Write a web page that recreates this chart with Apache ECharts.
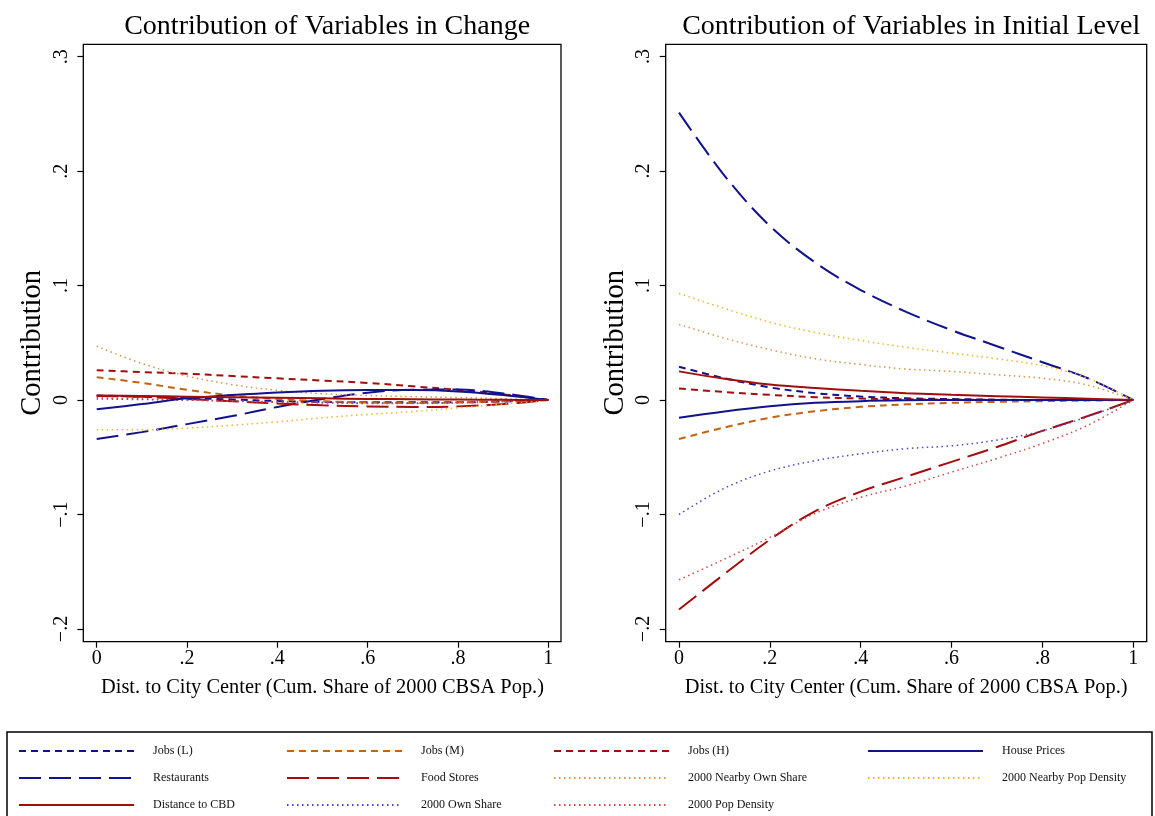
<!DOCTYPE html>
<html>
<head>
<meta charset="utf-8">
<script src="https://cdn.jsdelivr.net/npm/echarts@6/dist/echarts.min.js"></script>
<style>
html,body{margin:0;padding:0;background:#fff;}
#chart{width:1155px;height:816px;}
</style>
</head>
<body>
<div id="chart"></div>
<script>
// ---- data ----
const xVals = [0, 0.1, 0.2, 0.3, 0.4, 0.5, 0.6, 0.7, 0.8, 0.9, 1.0];
const titles = ["Contribution of Variables in Change", "Contribution of Variables in Initial Level"];
const seriesNames = ["Jobs (L)", "Jobs (M)", "Jobs (H)", "House Prices", "Restaurants", "Food Stores",
  "2000 Nearby Own Share", "2000 Nearby Pop Density", "Distance to CBD", "2000 Own Share", "2000 Pop Density"];

// Contribution in change (left panel)
const chgJobsL     = [0.004, 0.003, 0.002, 0.0005, -0.0008, -0.0015, -0.002, -0.002, -0.002, -0.0012, 0];
const chgJobsM     = [0.020, 0.015, 0.009, 0.004, 0.001, -0.001, -0.002, -0.0025, -0.002, -0.001, 0];
const chgJobsH     = [0.026, 0.0245, 0.023, 0.021, 0.019, 0.017, 0.015, 0.012, 0.009, 0.005, 0];
const chgHouse     = [-0.008, -0.0035, 0.0015, 0.0044, 0.0067, 0.0082, 0.0087, 0.0087, 0.0076, 0.0044, 0];
const chgRest      = [-0.034, -0.028, -0.021, -0.014, -0.006, 0.001, 0.0065, 0.009, 0.0092, 0.0058, 0];
const chgFood      = [0.0035, 0.0028, 0.001, -0.001, -0.003, -0.0045, -0.0055, -0.006, -0.0055, -0.0035, 0];
const chgNbOwn     = [0.047, 0.032, 0.021, 0.0135, 0.0085, 0.0055, 0.004, 0.003, 0.0022, 0.0012, 0];
const chgNbPop     = [-0.026, -0.026, -0.0245, -0.022, -0.019, -0.0155, -0.0125, -0.010, -0.0068, -0.0035, 0];
const chgCBD       = [0.004, 0.0035, 0.003, 0.0025, 0.002, 0.0015, 0.001, 0.0007, 0.0004, 0.0002, 0];
const chgOwn       = [0.001, 0.0005, 0, -0.0008, -0.0015, -0.002, -0.0025, -0.0025, -0.002, -0.001, 0];
const chgPop       = [0.002, 0.001, 0, -0.001, -0.002, -0.0025, -0.003, -0.003, -0.0025, -0.0015, 0];

// Contribution in initial level (right panel)
const lvlJobsL     = [0.029, 0.019, 0.011, 0.006, 0.003, 0.0015, 0.0008, 0.0003, 0, 0, 0];
const lvlJobsM     = [-0.034, -0.024, -0.0155, -0.0098, -0.006, -0.0038, -0.0025, -0.0016, -0.001, -0.0005, 0];
const lvlJobsH     = [0.010, 0.007, 0.0045, 0.0025, 0.0013, 0.0006, 0.0003, 0.0001, 0, 0, 0];
const lvlHouse     = [-0.0155, -0.010, -0.0055, -0.0025, -0.001, -0.0003, 0, 0, 0, 0, 0];
const lvlRest      = [0.251, 0.196, 0.152, 0.120, 0.096, 0.077, 0.061, 0.047, 0.033, 0.019, 0];
const lvlFood      = [-0.183, -0.152, -0.122, -0.097, -0.080, -0.067, -0.054, -0.041, -0.027, -0.014, 0];
const lvlNbOwn     = [0.066, 0.054, 0.044, 0.036, 0.031, 0.027, 0.025, 0.022, 0.019, 0.013, 0];
const lvlNbPop     = [0.093, 0.080, 0.068, 0.059, 0.052, 0.046, 0.041, 0.036, 0.030, 0.019, 0];
const lvlCBD       = [0.025, 0.0185, 0.0135, 0.0105, 0.008, 0.006, 0.0045, 0.0033, 0.0022, 0.0012, 0];
const lvlOwn       = [-0.100, -0.077, -0.062, -0.053, -0.047, -0.0425, -0.040, -0.035, -0.027, -0.0145, 0];
const lvlPop       = [-0.157, -0.139, -0.120, -0.099, -0.085, -0.075, -0.063, -0.051, -0.038, -0.022, 0];

const changeData = [chgJobsL, chgJobsM, chgJobsH, chgHouse, chgRest, chgFood, chgNbOwn, chgNbPop, chgCBD, chgOwn, chgPop];
const levelData  = [lvlJobsL, lvlJobsM, lvlJobsH, lvlHouse, lvlRest, lvlFood, lvlNbOwn, lvlNbPop, lvlCBD, lvlOwn, lvlPop];

// ---- styles ----
const NAVY = '#12128c', MAROON = '#a30d0d', ORANGE = '#c4640f';
const SHORT = [7, 5], LONG = [22, 8], DOT = [1.5, 3.5];
const styles = {
  "Jobs (L)":               {color: NAVY,   type: SHORT, width: 2},
  "Jobs (M)":               {color: ORANGE, type: SHORT, width: 2},
  "Jobs (H)":               {color: MAROON, type: SHORT, width: 2},
  "House Prices":           {color: NAVY,   type: 'solid', width: 2},
  "Restaurants":            {color: NAVY,   type: LONG, width: 2},
  "Food Stores":            {color: MAROON, type: LONG, width: 2},
  "2000 Nearby Own Share":  {color: '#d8944f', type: DOT, width: 1.5},
  "2000 Nearby Pop Density":{color: '#efb42a', type: DOT, width: 1.5},
  "Distance to CBD":        {color: MAROON, type: 'solid', width: 2},
  "2000 Own Share":         {color: '#4848c8', type: DOT, width: 1.5},
  "2000 Pop Density":       {color: '#d04848', type: DOT, width: 1.5}
};

const FONT = '"Liberation Serif", "Times New Roman", serif';
const fmt = v => {
  const r = Math.round(v * 10) / 10;
  if (r === 0) return '0';
  if (r === 1) return '1';
  const s = Math.abs(r).toFixed(1).replace(/^0/, '');
  return (r < 0 ? '\u2212' : '') + s;
};

// grid geometry (plot region = data range)
const grids = [
  {left: 96.7, top: 56.7, width: 451.6, height: 572.3},
  {left: 679,  top: 56.5, width: 454.3, height: 572.5}
];
const frames = [
  {x: 83.3, y: 44.3, w: 477.7, h: 597.4},
  {x: 665.7, y: 44.3, w: 481, h: 597.4}
];

const series = [];
[changeData, levelData].forEach((set, gi) => {
  set.forEach((vals, i) => {
    const name = seriesNames[i];
    const st = styles[name];
    series.push({
      type: 'line', name: name, xAxisIndex: gi, yAxisIndex: gi,
      data: xVals.map((x, k) => [x, vals[k]]),
      smooth: 0.35, symbol: 'none', showSymbol: false, silent: true, animation: false,
      z: st.type === 'solid' ? 3 : 2,
      lineStyle: {color: st.color, type: st.type, width: st.width, cap: 'butt'},
      itemStyle: {color: st.color}
    });
  });
});

const xAxes = grids.map((g, i) => ({
  type: 'value', gridIndex: i, min: 0, max: 1, interval: 0.2,
  offset: 12.7,
  axisLine: {show: false, onZero: false},
  axisTick: {show: true, length: 6, lineStyle: {color: '#000', width: 1.2}},
  axisLabel: {show: true, formatter: fmt, fontFamily: FONT, fontSize: 20, color: '#000', margin: 7},
  splitLine: {show: false},
  name: 'Dist. to City Center (Cum. Share of 2000 CBSA Pop.)',
  nameLocation: 'middle', nameGap: 36,
  nameTextStyle: {fontFamily: FONT, fontSize: 20.4, color: '#000'}
}));
const yAxes = grids.map((g, i) => ({
  type: 'value', gridIndex: i, min: -0.2, max: 0.3, interval: 0.1,
  offset: 13.3,
  axisLine: {show: false, onZero: false},
  axisTick: {show: true, length: 6, lineStyle: {color: '#000', width: 1.2}},
  axisLabel: {show: true, formatter: fmt, rotate: 90, fontFamily: FONT, fontSize: 20, color: '#000', margin: 12},
  splitLine: {show: false},
  name: 'Contribution', nameLocation: 'middle', nameGap: 36, nameRotate: 90,
  nameTextStyle: {fontFamily: FONT, fontSize: 28.5, color: '#000'}
}));

const legendCols = [
  ["Jobs (L)", "Restaurants", "Distance to CBD"],
  ["Jobs (M)", "Food Stores", "2000 Own Share"],
  ["Jobs (H)", "2000 Nearby Own Share", "2000 Pop Density"],
  ["House Prices", "2000 Nearby Pop Density"]
];
const legendLefts = [18, 286, 553, 867];
const legends = legendCols.map((col, i) => ({
  show: true, orient: 'vertical', left: legendLefts[i], top: 745,
  data: col, itemWidth: 115, itemHeight: 10, itemGap: 15, padding: 0,
  selectedMode: false,
  itemStyle: {opacity: 0, borderWidth: 0},
  textStyle: {fontFamily: FONT, fontSize: 12, color: '#111', padding: [0, 0, 0, 14]}
}));

const graphics = frames.map(f => ({
  type: 'rect', shape: {x: f.x, y: f.y, width: f.w, height: f.h},
  style: {fill: 'none', stroke: '#000', lineWidth: 1.3}, silent: true, z: 10
}));
graphics.push({
  type: 'rect', shape: {x: 7, y: 732, width: 1145, height: 90},
  style: {fill: 'none', stroke: '#000', lineWidth: 1.5}, silent: true
});

const chart = echarts.init(document.getElementById('chart'), null, {renderer: 'canvas'});
chart.setOption({
  backgroundColor: '#fff',
  animation: false,
  title: titles.map((t, i) => ({
    text: t, left: frames[i].x + frames[i].w / 2, top: 8, textAlign: 'center',
    textStyle: {fontFamily: FONT, fontSize: 28, fontWeight: 'normal', color: '#000'}
  })),
  grid: grids.map(g => Object.assign({containLabel: false}, g)),
  xAxis: xAxes,
  yAxis: yAxes,
  legend: legends,
  graphic: graphics,
  series: series
});
</script>
</body>
</html>
